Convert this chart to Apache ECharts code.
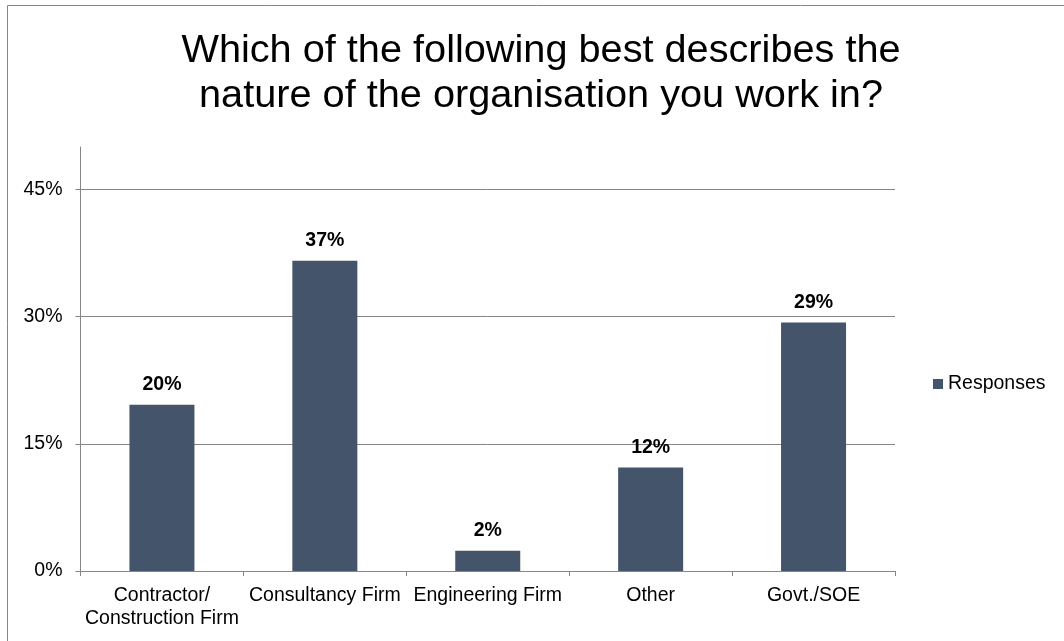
<!DOCTYPE html>
<html>
<head>
<meta charset="utf-8">
<style>
  html, body { margin: 0; padding: 0; background: #ffffff; }
  #chart { width: 1064px; height: 641px; }
</style>
<script src="https://cdn.jsdelivr.net/npm/echarts@6/dist/echarts.min.js"></script>
</head>
<body>
<div id="chart"></div>
<script>
// Survey: type of organisation respondents work in (% of responses)
const categories = ['Contractor/\nConstruction Firm', 'Consultancy Firm', 'Engineering Firm', 'Other', 'Govt./SOE'];
const responses = [19.6, 36.6, 2.4, 12.2, 29.3];
const yTicks = [0, 15, 30, 45];
const seriesName = 'Responses';
const titleText = 'Which of the following best describes the\nnature of the organisation you work in?';

const FONT = '"Liberation Sans", Arial, sans-serif';
const GREY = '#868686';
const BAR = '#44546A';

const chart = echarts.init(document.getElementById('chart'), null, { renderer: 'canvas' });

chart.setOption({
  backgroundColor: '#ffffff',
  animation: false,
  title: {
    text: titleText,
    left: 541,
    top: 29,
    padding: 0,
    textAlign: 'center',
    textStyle: {
      fontFamily: FONT,
      fontSize: 39.7,
      fontWeight: 'normal',
      color: '#000000',
      lineHeight: 45
    }
  },
  legend: {
    data: [seriesName],
    left: 928,
    top: 369,
    icon: 'rect',
    itemWidth: 10,
    itemHeight: 10,
    itemGap: 5,
    textStyle: { fontFamily: FONT, fontSize: 19.5, color: '#000000' }
  },
  graphic: [{
    type: 'rect',
    shape: { x: 7.5, y: 5.5, width: 1200, height: 800 },
    style: { fill: 'none', stroke: GREY, lineWidth: 1 },
    silent: true
  }],
  grid: { left: 80.5, right: 169, top: 147, bottom: 70, containLabel: false },
  xAxis: {
    type: 'category',
    data: categories,
    axisLine: { lineStyle: { color: GREY, width: 1 } },
    axisTick: { show: true, alignWithLabel: false, length: 5, lineStyle: { color: GREY } },
    axisLabel: {
      interval: 0,
      margin: 13,
      fontFamily: FONT,
      fontSize: 19.5,
      lineHeight: 23,
      color: '#000000'
    }
  },
  yAxis: {
    type: 'value',
    min: 0,
    max: 50,
    interval: 15,
    axisLine: { show: true, lineStyle: { color: GREY, width: 1 } },
    axisTick: { show: true, length: 5, lineStyle: { color: GREY }, customValues: yTicks },
    splitLine: { show: true, lineStyle: { color: GREY, width: 1 } },
    axisLabel: {
      customValues: yTicks,
      margin: 18,
      fontFamily: FONT,
      fontSize: 19.5,
      color: '#000000',
      formatter: v => v + '%'
    }
  },
  series: [{
    name: seriesName,
    type: 'bar',
    data: responses,
    barWidth: 65,
    itemStyle: { color: BAR },
    label: {
      show: true,
      position: 'top',
      distance: 10,
      fontFamily: FONT,
      fontSize: 19.5,
      fontWeight: 'bold',
      color: '#000000',
      formatter: p => Math.round(p.value) + '%'
    }
  }]
});
</script>
</body>
</html>
